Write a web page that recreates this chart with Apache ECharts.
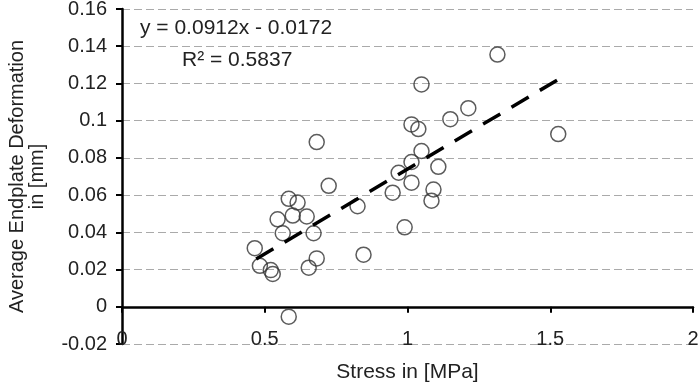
<!DOCTYPE html>
<html>
<head>
<meta charset="utf-8">
<script src="https://cdn.jsdelivr.net/npm/echarts@6/dist/echarts.min.js"></script>
<style>
  html, body { margin: 0; padding: 0; background: #fff; }
  #chart { width: 698px; height: 384px; }
</style>
</head>
<body>
<div id="chart"></div>
<script>
  // stress [MPa] vs deformation [mm]
  let stress = [0.724, 0.584, 0.615, 0.545, 0.598, 0.647, 0.563, 0.671, 0.465, 0.483,
                0.521, 0.528, 0.682, 0.654, 0.846, 0.825, 0.584, 0.682,
                1.315, 1.049, 1.213, 1.150, 1.014, 1.038, 1.528, 1.049, 1.014, 1.108,
                0.969, 1.014, 0.948, 1.091, 1.084, 0.990];
  let deform = [0.065, 0.058, 0.056, 0.047, 0.049, 0.0485, 0.0395, 0.0395, 0.0315, 0.022,
                0.0197, 0.0176, 0.026, 0.021, 0.028, 0.054, -0.0053, 0.0885,
                0.1355, 0.1195, 0.1067, 0.1008, 0.098, 0.0955, 0.0928, 0.0837, 0.0778, 0.0752,
                0.072, 0.0667, 0.0613, 0.063, 0.057, 0.0427];
  let slope = 0.0912;
  let intercept = -0.0172;
  let r2 = 0.5837;
  let fitRange = [0.47, 1.53];

  let points = stress.map((x, i) => [x, deform[i]]);
  let fitLine = fitRange.map(x => [x, slope * x + intercept]);

  let font = 'Liberation Sans, Arial, sans-serif';
  let chart = echarts.init(document.getElementById('chart'));
  chart.setOption({
    animation: false,
    grid: { left: 122, right: 5, top: 9, bottom: 40, outerBoundsMode: 'none', containLabel: false },
    graphic: [
      {
        type: 'text', left: 140, top: 18,
        style: { text: 'y = ' + slope + 'x - ' + Math.abs(intercept), font: '21px ' + font, fill: '#222' }
      },
      {
        type: 'text', left: 182, top: 50,
        style: { text: 'R\u00b2 = ' + r2, font: '21px ' + font, fill: '#222' }
      }
    ],
    xAxis: {
      type: 'value',
      min: 0, max: 2, interval: 0.5,
      name: 'Stress in [MPa]',
      nameLocation: 'middle',
      nameGap: 18,
      nameTextStyle: { fontFamily: font, fontSize: 21, color: '#222' },
      axisLine: { onZero: true, lineStyle: { color: '#000', width: 2.5 } },
      axisTick: { show: true, length: 6, lineStyle: { color: '#000', width: 2 } },
      axisLabel: { margin: -15, fontFamily: font, fontSize: 20, color: '#222' },
      splitLine: { show: false }
    },
    yAxis: {
      type: 'value',
      min: -0.02, max: 0.16, interval: 0.02,
      name: 'Average Endplate Deformation\nin [mm]',
      nameLocation: 'middle',
      nameGap: 75,
      nameTextStyle: { fontFamily: font, fontSize: 20, color: '#222', lineHeight: 20 },
      axisLine: { show: true, lineStyle: { color: '#000', width: 2.5 } },
      axisTick: { show: true, length: 6, lineStyle: { color: '#000', width: 2 } },
      axisLabel: {
        margin: 15, fontFamily: font, fontSize: 20, color: '#222',
        formatter: v => String(+v.toFixed(2))
      },
      splitLine: { show: true, lineStyle: { color: '#aaa', width: 1.2, type: [8, 4] } }
    },
    series: [
      {
        type: 'scatter',
        data: points,
        symbol: 'circle',
        symbolSize: 15,
        itemStyle: { color: 'rgba(0,0,0,0)', borderColor: '#333', borderWidth: 1.5 },
        z: 3
      },
      {
        type: 'line',
        data: fitLine,
        symbol: 'none',
        lineStyle: { color: '#000', width: 3.5, type: [20, 13] },
        z: 4
      }
    ]
  });
</script>
</body>
</html>
